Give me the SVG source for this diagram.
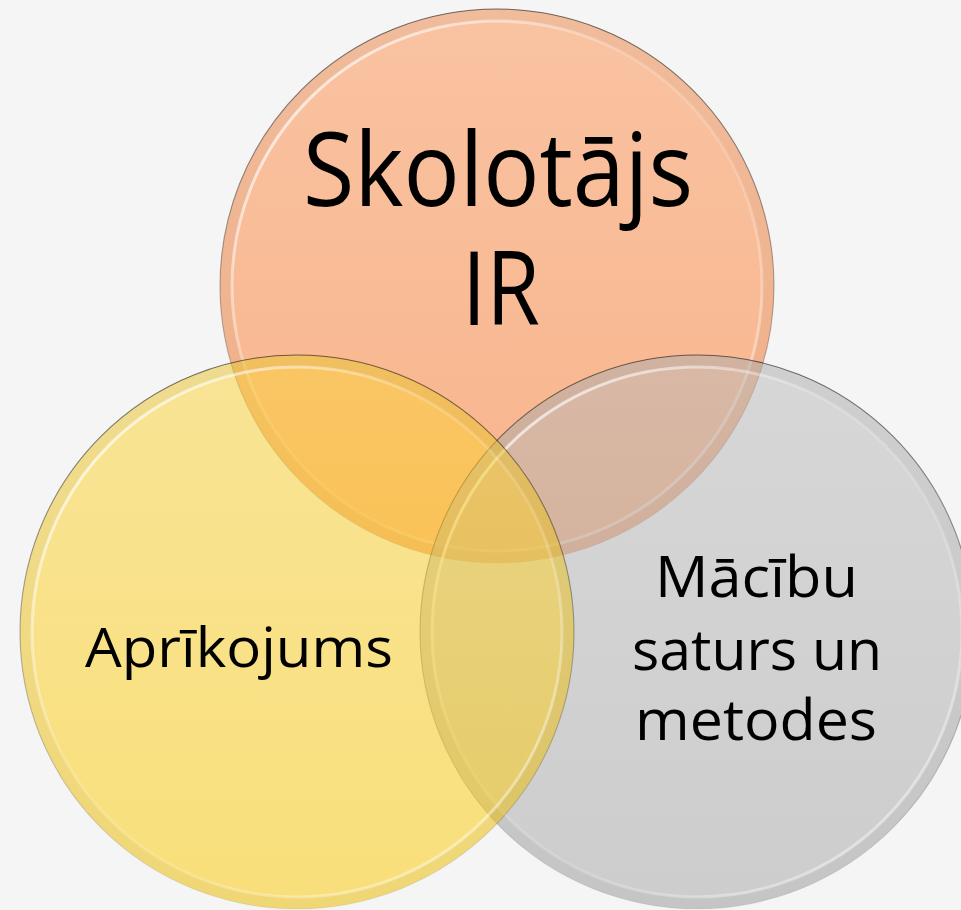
<svg xmlns="http://www.w3.org/2000/svg" width="961" height="910" viewBox="0 0 961 910">
<defs>
<style>
.base{fill-opacity:0.5}
.band{fill:none;stroke:#000;stroke-opacity:0.035;stroke-width:12}
.hl{fill:none;stroke:url(#hlg);stroke-width:3}
.edge{fill:none;stroke:url(#edg);stroke-width:1.1}
.lbl{font-family:"Open Sans","Noto Sans","DejaVu Sans",sans-serif;fill:#000;text-anchor:middle}
</style>
<linearGradient id="gOr" x1="0" y1="0" x2="0" y2="1">
<stop offset="0" stop-color="#fd914f"/>
<stop offset="1" stop-color="#fb7321"/>
</linearGradient>
<linearGradient id="gYe" x1="0" y1="0" x2="0" y2="1">
<stop offset="0" stop-color="#fbd337"/>
<stop offset="1" stop-color="#fdc900"/>
</linearGradient>
<linearGradient id="gGr" x1="0" y1="0" x2="0" y2="1">
<stop offset="0" stop-color="#b9b9b9"/>
<stop offset="1" stop-color="#a5a5a5"/>
</linearGradient>
<linearGradient id="hlg" x1="0" y1="0" x2="1" y2="1">
<stop offset="0" stop-color="#fff" stop-opacity="0.9"/>
<stop offset="0.4" stop-color="#fff" stop-opacity="0.2"/>
<stop offset="0.6" stop-color="#fff" stop-opacity="0.15"/>
<stop offset="1" stop-color="#fff" stop-opacity="0.6"/>
</linearGradient>
<linearGradient id="edg" x1="0" y1="0" x2="0" y2="1">
<stop offset="0" stop-color="#000" stop-opacity="0.55"/>
<stop offset="0.6" stop-color="#000" stop-opacity="0.25"/>
<stop offset="1" stop-color="#000" stop-opacity="0.06"/>
</linearGradient>
</defs>
<rect x="0" y="0" width="961" height="910" fill="#f5f5f5"/>
<g id="node-skolotajs">
<circle class="base" cx="497" cy="286" r="277" fill="url(#gOr)"/>
<circle class="band" cx="497" cy="286" r="271"/>
<circle class="hl" cx="497" cy="286" r="265"/>
<circle class="edge" cx="497" cy="286" r="277"/>
<text class="lbl" font-size="102" x="498" y="206" textLength="390" lengthAdjust="spacingAndGlyphs">Skolotājs</text>
<text class="lbl" font-size="102" x="501" y="325" textLength="78" lengthAdjust="spacingAndGlyphs">IR</text>
</g>
<g id="node-macibu">
<circle class="base" cx="697" cy="632" r="277" fill="url(#gGr)"/>
<circle class="band" cx="697" cy="632" r="271"/>
<circle class="hl" cx="697" cy="632" r="265"/>
<circle class="edge" cx="697" cy="632" r="277"/>
<text class="lbl" font-size="56"><tspan x="756.5" y="597" textLength="203" lengthAdjust="spacingAndGlyphs">Mācību</tspan><tspan x="757" y="670" textLength="250" lengthAdjust="spacingAndGlyphs">saturs un</tspan><tspan x="756" y="740" textLength="242" lengthAdjust="spacingAndGlyphs">metodes</tspan></text>
</g>
<g id="node-aprikojums">
<circle class="base" cx="297" cy="632" r="277" fill="url(#gYe)"/>
<circle class="band" cx="297" cy="632" r="271"/>
<circle class="hl" cx="297" cy="632" r="265"/>
<circle class="edge" cx="297" cy="632" r="277"/>
<text class="lbl" font-size="54" x="239" y="667" textLength="308" lengthAdjust="spacingAndGlyphs">Aprīkojums</text>
</g>
<g id="connectors"/>
</svg>
